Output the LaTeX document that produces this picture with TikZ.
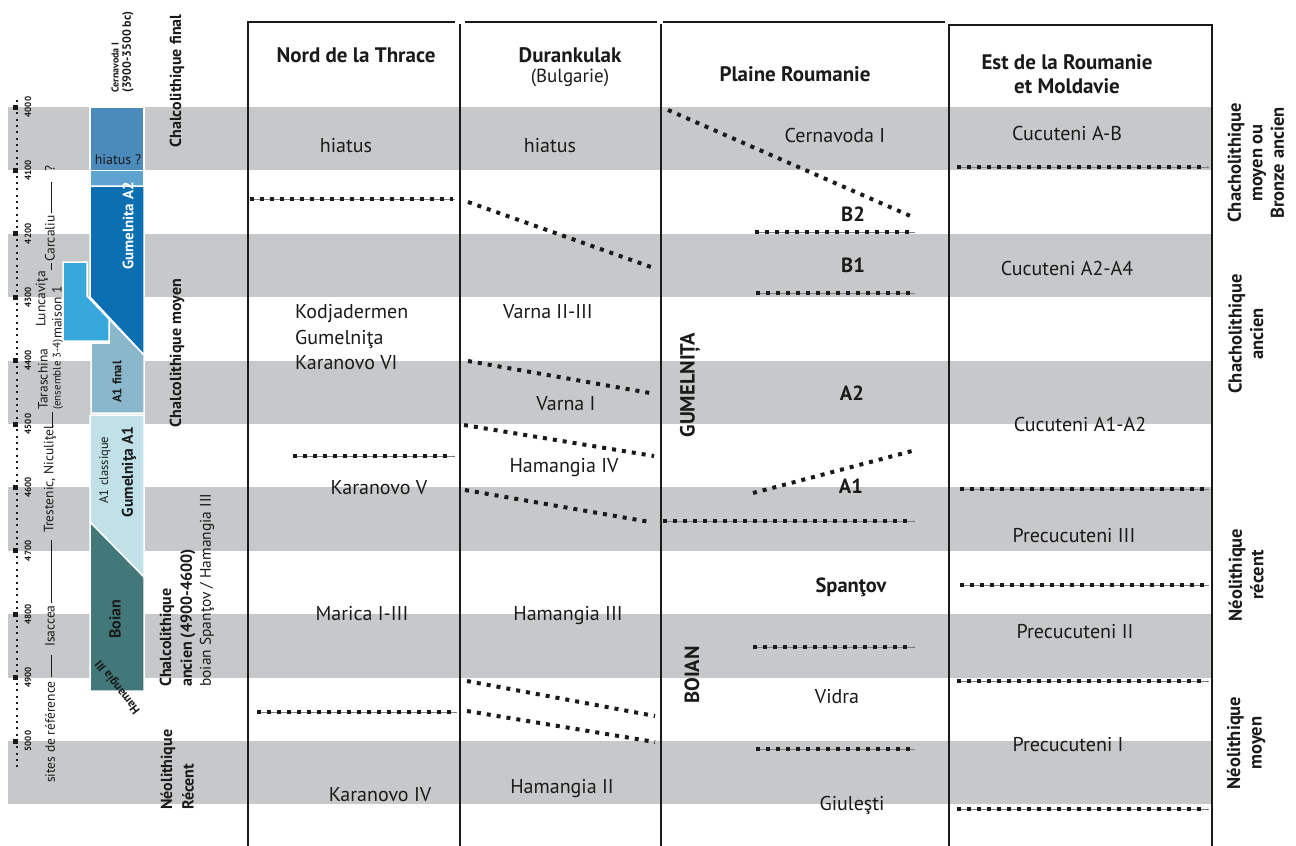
\documentclass[tikz,border=0pt]{standalone}
\usepackage{fontspec}
\setmainfont{PT Sans}
\definecolor{bandgray}{HTML}{C7C8CA}
\definecolor{cernA}{HTML}{4A8BBB}
\definecolor{cernB}{HTML}{5EA3CF}
\definecolor{gumA}{HTML}{0B6FB1}
\definecolor{lightb}{HTML}{38A8DC}
\definecolor{afinal}{HTML}{8AB7CB}
\definecolor{gumAone}{HTML}{BFE1E7}
\definecolor{boian}{HTML}{43787A}
\definecolor{ink}{HTML}{1A1A1A}
\begin{document}
\begin{tikzpicture}[x=1pt,y=-1pt,
  band/.style={fill=bandgray,draw=none},
  dl/.style={line width=4pt,dash pattern=on 4pt off 6pt,ink},
  thinl/.style={gray,line width=0.6pt},
  vline/.style={line width=2.2pt,ink},
  blk/.style={draw=white,line width=1.5pt},
  txt/.style={font=\fontsize{20}{24}\selectfont,text=ink,inner sep=0pt},
  btxt/.style={font=\bfseries\fontsize{20.5}{24}\selectfont,text=ink,inner sep=0pt},
  hdr/.style={font=\bfseries\fontsize{21}{24}\selectfont,text=ink,align=center,inner sep=0pt},
  rlab/.style={font=\bfseries\fontsize{18.5}{21.5}\selectfont,text=ink,rotate=90,align=center,inner sep=0pt},
  llab/.style={font=\bfseries\fontsize{16}{19}\selectfont,text=ink,rotate=90,inner sep=0pt},
  site/.style={font=\fontsize{13.5}{15}\selectfont,text=ink,rotate=90,inner sep=0pt,anchor=west},
  num/.style={font=\bfseries\fontsize{9}{10}\selectfont,text=ink,rotate=90,inner sep=0pt},
  sline/.style={line width=0.8pt,ink}]
\useasboundingbox (0,0) rectangle (1296,846);
\fill[white] (0,0) rectangle (1296,846);
% grey bands
\foreach \k in {0,2,4,6,8,10}{
  \pgfmathsetmacro\ya{107+\k*63.4}
  \pgfmathsetmacro\yb{107+(\k+1)*63.4}
  \fill[band] (8,\ya) rectangle (1212,\yb);
}
% scale
\foreach \i in {-1,...,104}{
  \pgfmathsetmacro\yy{107+\i*6.34}
  \fill[ink] (15.5,\yy-1) rectangle (17.5,\yy+1);
}
\foreach \k in {0,...,10}{
  \pgfmathsetmacro\yy{107+\k*63.4}
  \pgfmathtruncatemacro\yr{4000+\k*100}
  \fill[ink] (13,\yy-2.5) rectangle (17.5,\yy+2.5);
  \node[num] (n\k) at (28,\yy) {\yr};
}
% coloured column
\path[blk,fill=cernA] (90,107) rectangle (144,171);
\fill[cernB] (90,171) rectangle (144,186);
\draw[white,line width=1.5pt] (90,107) -- (90,186) (144,107) -- (144,186);
\path[blk,fill=gumA] (90,186) -- (144,186) -- (144,355) -- (90,297) -- cycle;
\path[blk,fill=afinal] (91,343) -- (109,343) -- (109,319) -- (144,355) -- (144,413) -- (91,413) -- cycle;
\path[blk,fill=lightb] (63,262) -- (87,262) -- (87,296) -- (109,319) -- (109,341) -- (63,341) -- cycle;
\path[blk,fill=gumAone] (90,415) -- (144,415) -- (144,577) -- (90,522) -- cycle;
\path[blk,fill=boian] (90,522) -- (144,577) -- (144,691) -- (90,691) -- cycle;
\node[font=\fontsize{14}{16}\selectfont,text=ink,inner sep=0pt] (hq) at (118,160) {hiatus ?};
\node[llab,text=white,font=\bfseries\fontsize{15}{18}\selectfont] (ga2) at (128,226) {Gumelnita A2};
\node[llab,font=\bfseries\fontsize{12.5}{14}\selectfont] (a1f) at (117,382) {A1 final};
\node[llab,font=\fontsize{12.5}{14}\selectfont] (a1c) at (105,470) {A1 classique};
\node[llab,font=\bfseries\fontsize{15.5}{18}\selectfont] (ga1) at (129,472) {Gumelniţa A1};
\node[llab] (boi) at (115,619) {Boian};
\node[font=\bfseries\fontsize{12}{14}\selectfont,text=ink,inner sep=0pt,rotate=128] (ham) at (118,687) {Hamangia III};
\node[site,font=\bfseries\fontsize{10}{11}\selectfont] (cer) at (115,93) {Cernavoda I};
\node[site,font=\bfseries\fontsize{12}{13}\selectfont] (cerd) at (128,93) {(3900-3500 bc)};
% sites de reference
\node[site] (s1) at (50,783) {sites de référence};
\draw[sline] (51,677) -- (51,655);
\node[site] (s2) at (50,647) {Isaccea};
\draw[sline] (51,603) -- (51,540);
\node[site] (s3) at (50,533) {Trestenic, Niculiţel};
\draw[sline] (52,428) -- (52,412);
\node[site] (s4) at (43,410) {Taraschina};
\node[site,font=\fontsize{11}{12}\selectfont] (s5) at (58,410) {(ensemble 3-4)};
\node[site] (s6) at (42,327) {Luncaviţa};
\node[site] (s7) at (57,339) {maison 1};
\draw[sline] (51,270) -- (51,263);
\node[site] (s8) at (50,262) {Carcaliu};
\draw[sline] (51,213) -- (51,182);
\node[site] (s9) at (50,172) {?};
% period labels left
\node[llab] (cf) at (177,81) {Chalcolithique final};
\node[llab] (cm) at (177,353) {Chalcolithique moyen};
\node[llab,anchor=west] (ca1) at (167,687) {Chalcolithique};
\node[llab,anchor=west] (ca2) at (188,687) {ancien (4900-4600)};
\node[site,font=\fontsize{15.5}{18}\selectfont] (ca3) at (207,687) {boian Spanţov / Hamangia III};
\node[llab,anchor=west] (nr1) at (168,810) {Néolithique};
\node[llab,anchor=west] (nr2) at (188,810) {Récent};
% frame lines
\draw[vline] (248,22) -- (455,22);
\draw[vline] (465,22) -- (657,22);
\draw[vline] (663,22) -- (945,22);
\draw[vline] (949,25) -- (1212,25);
\draw[vline] (248,21) -- (248,846);
\draw[vline] (460,24) -- (460,846);
\draw[vline] (661,24) -- (661,846);
\draw[vline] (949,24) -- (949,846);
\draw[vline] (1212,24) -- (1212,846);
% headers
\node[hdr] (h1) at (356,55) {Nord de la Thrace};
\node[hdr] (h2) at (570,55) {Durankulak};
\node[txt,font=\fontsize{19}{22}\selectfont] (h2b) at (570,78) {(Bulgarie)};
\node[hdr] (h3) at (795,74) {Plaine Roumanie};
\node[hdr] (h4) at (1067,74) {Est de la Roumanie\\et Moldavie};
% right labels
\node[rlab] (r1) at (1256,163) {Chacholithique\\moyen ou\\Bronze ancien};
\node[rlab] (r2) at (1246,334) {Chacholithique\\ancien};
\node[rlab] (r3) at (1246,575) {Néolithique\\récent};
\node[rlab] (r4) at (1246,743) {Néolithique\\moyen};
% column 1
\node[txt] (c1a) at (346,146) {hiatus};
\node[txt,anchor=west] (c1b) at (295,314) {Kodjadermen};
\node[txt,anchor=west] (c1c) at (295,339) {Gumelniţa};
\node[txt,anchor=west] (c1d) at (295,363) {Karanovo VI};
\node[txt] (c1e) at (379,488) {Karanovo V};
\node[txt] (c1f) at (362,614) {Marica I-III};
\node[txt] (c1g) at (380,795) {Karanovo IV};
% column 2
\node[txt] (c2a) at (550,146) {hiatus};
\node[txt] (c2b) at (548,312) {Varna II-III};
\node[txt] (c2c) at (566,404) {Varna I};
\node[txt] (c2d) at (564,468) {Hamangia IV};
\node[txt] (c2e) at (568,616) {Hamangia III};
\node[txt] (c2f) at (562,789) {Hamangia II};
% column 3
\node[txt] (c3a) at (835,135) {Cernavoda I};
\node[btxt] (c3b) at (853,214) {B2};
\node[btxt] (c3c) at (853,265) {B1};
\node[btxt] (c3d) at (852,393) {A2};
\node[btxt] (c3e) at (851,486) {A1};
\node[btxt] (c3f) at (851,587) {Spanţov};
\node[txt] (c3g) at (837,697) {Vidra};
\node[txt] (c3h) at (852,805) {Giuleşti};
\node[btxt,rotate=90] (gum) at (690,385) {GUMELNIȚA};
\node[btxt,rotate=90] (boi2) at (692,675) {BOIAN};
% column 4
\node[txt] (c4a) at (1067,133) {Cucuteni A-B};
\node[txt] (c4b) at (1067,268) {Cucuteni A2-A4};
\node[txt] (c4c) at (1080,424) {Cucuteni A1-A2};
\node[txt] (c4d) at (1074,536) {Precucuteni III};
\node[txt] (c4e) at (1075,632) {Precucuteni II};
\node[txt] (c4f) at (1068,745) {Precucuteni I};
% horizontal dashed boundaries
\foreach \xa/\xb/\yy in {250/453/199, 293/453/456, 257/455/712,
  755/913/232, 756/913/293, 663/913/521, 753/913/647, 756/913/749,
  957/1207/167, 960/1207/489, 960/1207/585, 957/1207/681, 957/1207/809}{
  \draw[thinl] (\xa,\yy) -- (\xb+2,\yy);
  \draw[dl] (\xa,\yy) -- (\xb,\yy);
}
% oblique dashed boundaries
\draw[dl] (468,202) -- (651,267);
\draw[dl] (468,361) -- (650,393);
\draw[dl] (464,425) -- (654,456);
\draw[dl] (465,490) -- (650,522);
\draw[dl] (467,681) -- (655,716);
\draw[dl] (467,711) -- (655,742);
\draw[dl] (668,110) -- (915,218);
\draw[dl] (753,493) -- (912,451);
\end{tikzpicture}
\end{document}
